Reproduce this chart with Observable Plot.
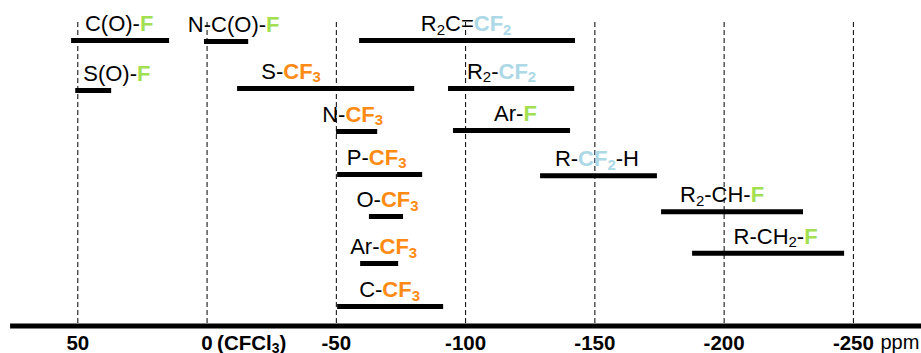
<!DOCTYPE html>
<html>
<head>
<meta charset="utf-8">
<script src="https://cdn.jsdelivr.net/npm/d3@7"></script>
<script src="https://cdn.jsdelivr.net/npm/@observablehq/plot@0.6"></script>
<style>
  html, body { margin: 0; padding: 0; background: #fff; }
  #chart { width: 921px; height: 353px; overflow: hidden; }
</style>
</head>
<body>
<div id="chart"></div>
<script>
// Group labels (markup: {g|..} green, {o|..} orange, {b|..} light blue, _x subscript)
const labels = ["C(O)-{g|F}", "N-C(O)-{g|F}", "R_2C={b|CF_2}", "S(O)-{g|F}", "S-{o|CF_3}",
  "R_2-{b|CF_2}", "N-{o|CF_3}", "Ar-{g|F}", "P-{o|CF_3}", "R-{b|CF_2}-H",
  "O-{o|CF_3}", "R_2-CH-{g|F}", "Ar-{o|CF_3}", "R-CH_2-{g|F}", "C-{o|CF_3}"];
// chemical shift ranges (ppm)
const shiftFrom = [52.4, 1, -59, 50.8, -11.8, -93.4, -50.1, -95.3, -50.5, -129, -62.8, -175.8, -59.4, -187.8, -50.5];
const shiftTo = [14.5, -16.1, -142.5, 36.9, -80.3, -142.2, -66, -140.6, -83.4, -174.2, -76, -230.7, -74.1, -246.6, -91.5];
// row level of each bar
const level = [1, 1.02, 1, 2.13, 2.08, 2.08, 3.05, 3.03, 4.02, 4.05, 4.97, 4.86, 6.03, 5.8, 7];
// label centre (ppm)
const labelAt = [34, -10.3, -100.2, 34.9, -32.5, -113.9, -56.3, -119.3, -65.6, -150.8, -69.8, -199.2, -68.3, -219.9, -70.6];
// axis ticks
const tickValues = [50, 0, -50, -100, -150, -200, -250];
const tickText = ["50", "0", "-50", "-100", "-150", "-200", "-250"];

const axisLevel = 7.44;
const gridTop = 0.594;

const rows = labels.map((label, i) => ({label, from: shiftFrom[i], to: shiftTo[i], level: level[i], at: labelAt[i]}));
const ticks = tickValues.map((v, i) => ({v, text: tickText[i]}));

const colors = {g: "#a2e052", o: "#ff8a14", b: "#add8e6"};

const plot = Plot.plot({
  width: 921,
  height: 353,
  marginLeft: 77.3,
  marginRight: 68.1,
  marginTop: 0,
  marginBottom: 0,
  style: {fontFamily: "Arial, 'Liberation Sans', sans-serif", background: "#fff", overflow: "hidden"},
  x: {domain: [50, -250], axis: null},
  y: {domain: [1, 7], range: [40, 306], axis: null},
  marks: [
    Plot.ruleX(ticks, {x: "v", y1: gridTop, y2: axisLevel, stroke: "#000", strokeWidth: 1, strokeDasharray: "5,3"}),
    Plot.ruleY([axisLevel], {x1: 76, x2: -290, stroke: "#000", strokeWidth: 5}),
    Plot.ruleY(rows, {x1: "from", x2: "to", y: "level", stroke: "#000", strokeWidth: 5}),
    Plot.text(rows, {x: "at", y: "level", text: "label", dy: -16.5, fontSize: 22, fill: "#000", textAnchor: "middle"}),
    Plot.text(ticks, {x: "v", y: axisLevel, text: "text", dy: 17, fontSize: 20.5, fontWeight: "bold", fill: "#000", textAnchor: "middle"}),
    Plot.text(["(CFCl_3)"], {x: 0, y: axisLevel, text: d => d, dy: 17, dx: 10, fontSize: 20.5, fontWeight: "bold", fill: "#000", textAnchor: "start"}),
    Plot.text(["ppm"], {x: -250, y: axisLevel, text: d => d, dy: 17, dx: 27, fontSize: 20, fill: "#000", textAnchor: "start"})
  ]
});

// rich text: colours, bold, subscripts
function parse(str) {
  const segs = [];
  let color = null;
  for (let i = 0; i < str.length; i++) {
    const ch = str[i];
    if (ch === "{") {
      const bar = str.indexOf("|", i);
      color = str.slice(i + 1, bar);
      i = bar;
      continue;
    }
    if (ch === "}") { color = null; continue; }
    let sub = false, c = ch;
    if (ch === "_") { sub = true; c = str[++i]; }
    const last = segs[segs.length - 1];
    if (last && last.color === color && last.sub === sub) last.text += c;
    else segs.push({text: c, color, sub});
  }
  return segs;
}

d3.select(plot).selectAll("text").each(function() {
  const el = d3.select(this);
  const s = el.text();
  if (!/[{_]/.test(s)) return;
  const segs = parse(s);
  el.text(null);
  let shifted = 0;
  for (const seg of segs) {
    const t = el.append("tspan").text(seg.text);
    if (seg.color) t.attr("fill", colors[seg.color]).attr("font-weight", "bold");
    if (seg.sub) {
      t.attr("font-size", "0.68em").attr("dy", 3.5 - shifted);
      shifted = 3.5;
    } else if (shifted) {
      t.attr("dy", -shifted);
      shifted = 0;
    }
  }
});

document.getElementById("chart").appendChild(plot);
</script>
</body>
</html>
